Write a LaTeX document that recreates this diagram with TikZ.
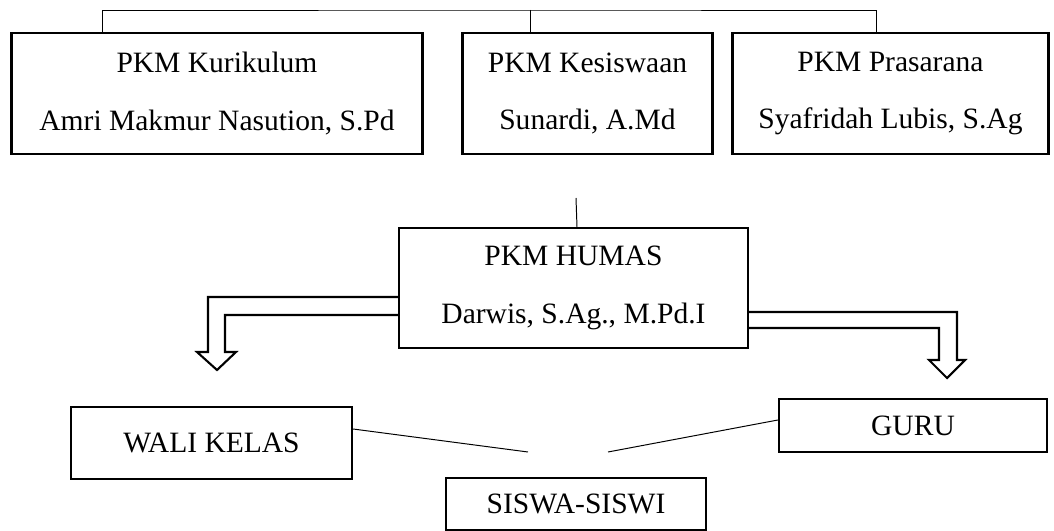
\documentclass[tikz,border=0pt]{standalone}
\usepackage{fontspec}
\setmainfont{Liberation Serif}
\usetikzlibrary{positioning}
\tikzset{
    pkmbox/.style={
        rectangle,
        draw=black, line width=2.1pt,
        align=center,
        font=\fontsize{21}{41}\selectfont,
        minimum height=3.025cm,
        inner sep=0pt
    },
    unitbox/.style={
        rectangle,
        draw=black, line width=1.5pt,
        align=center,
        font=\fontsize{21}{41}\selectfont,
        inner sep=0pt
    },
    line/.style={draw, line width=0.7pt},
    hollow/.style={draw, line width=1.5pt, line join=miter}
}
\begin{document}
\begin{tikzpicture}[x=0.025cm, y=-0.025cm]
    \useasboundingbox (0,0) rectangle (1054,531);
    \node[pkmbox, minimum width=10.25cm] (kur) at (217,93.5) {PKM Kurikulum\\Amri Makmur Nasution, S.Pd};
    \node[pkmbox, minimum width=6.225cm] (kes) at (587.5,93.5) {PKM Kesiswaan\\Sunardi, A.Md};
    \node[pkmbox, minimum width=7.875cm] (pra) at (890.5,93.5) {PKM Prasarana\\Syafridah Lubis, S.Ag};
    \node[unitbox, minimum width=8.725cm, minimum height=3cm] (humas) at (573.5,288) {PKM HUMAS\\Darwis, S.Ag., M.Pd.I};
    \node[unitbox, minimum width=7.025cm, minimum height=1.8cm] (wali) at (211.5,443) {WALI KELAS};
    \node[unitbox, minimum width=6.7cm, minimum height=1.325cm] (guru) at (913,425.5) {GURU};
    \node[unitbox, minimum width=6.5cm, minimum height=1.3cm] (siswa) at (576,504) {SISWA-SISWI};
    \coordinate (bus) at (530,10);
    \coordinate (humtop) at (576,198);
    \coordinate (wend) at (528,452);
    \coordinate (gend) at (608,452);
    \draw[line] (kur.north -| 102,0) |- (bus) -| (pra.north -| 876,0);
    \draw[line] (bus) -- (kes.north -| bus);
    \draw[line] (humas.north -| 577,0) -- (humtop);
    \draw[hollow] (humas.west |- 0,297) -- (208,297) -- (208,352) -- (197,352) -- (217,370)
        -- (236,352) -- (225,352) -- (225,315) -- (humas.west |- 0,315);
    \draw[hollow] (humas.east |- 0,312) -- (957,312) -- (957,360) -- (965,360) -- (947,378)
        -- (929,360) -- (939,360) -- (939,328) -- (humas.east |- 0,328);
    \draw[line] (wali.east |- 0,429) -- (wend);
    \draw[line] (guru.west |- 0,420) -- (gend);
\end{tikzpicture}
\end{document}
